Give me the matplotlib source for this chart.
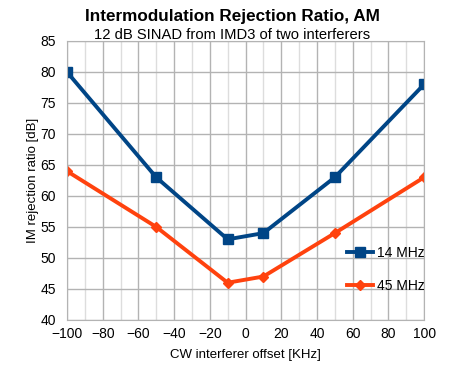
import matplotlib
matplotlib.use('Agg')
import matplotlib.pyplot as plt
from matplotlib.ticker import MultipleLocator

plt.rcParams['font.family'] = ['Liberation Sans', 'DejaVu Sans']

offset = [-100, -50, -10, 10, 50, 100]
mhz14 = [80, 63, 53, 54, 63, 78]
mhz45 = [64, 55, 46, 47, 54, 63]

fig = plt.figure(figsize=(4.65, 3.69), dpi=100)
ax = fig.add_axes([0.144, 0.133, 0.768, 0.756])

ax.plot(offset, mhz14, color='#004586', lw=2.8, marker='s', ms=7, label='14 MHz')
ax.plot(offset, mhz45, color='#ff420e', lw=2.8, marker='D', ms=5, label='45 MHz')

ax.set_xlim(-100, 100)
ax.set_ylim(40, 85)
ax.xaxis.set_major_locator(MultipleLocator(20))
ax.xaxis.set_minor_locator(MultipleLocator(10))
ax.yaxis.set_major_locator(MultipleLocator(5))
ax.grid(which='major', color='#b3b3b3', lw=1)
ax.grid(which='minor', axis='x', color='#dddddd', lw=1)
ax.tick_params(which='both', length=0, labelsize=10)
ax.tick_params(axis='y', pad=8)
ax.tick_params(axis='x', pad=5)
for s in ax.spines.values():
    s.set_color('#b3b3b3')
ax.set_axisbelow(True)

ax.set_xlabel('CW interferer offset [KHz]', fontsize=9.5, labelpad=6)
ax.set_ylabel('IM rejection ratio [dB]', fontsize=9.5, labelpad=1)
fig.text(0.5, 0.955, 'Intermodulation Rejection Ratio, AM', ha='center', va='center',
         fontsize=12.3, fontweight='bold')
fig.text(0.5, 0.905, '12 dB SINAD from IMD3 of two interferers', ha='center', va='center',
         fontsize=10.6)

ax.legend(loc='center', bbox_to_anchor=(0.83, 0.27), bbox_transform=fig.transFigure,
          frameon=False, fontsize=10, labelspacing=1.4, handlelength=1.9,
          handletextpad=0.3)

fig.savefig('out.png', dpi=100)
